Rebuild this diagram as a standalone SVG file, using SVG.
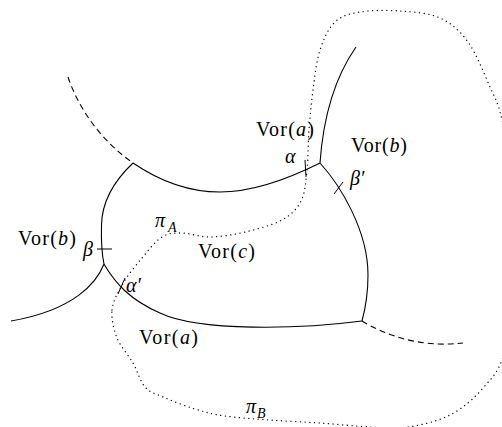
<svg xmlns="http://www.w3.org/2000/svg" width="502" height="427" viewBox="0 0 502 427">
<style>
.e{fill:none;stroke:#000;stroke-width:1.1}
.d{fill:none;stroke:#000;stroke-width:1.1;stroke-dasharray:6 4}
.p{fill:none;stroke:#000;stroke-width:1.3;stroke-linecap:round;stroke-dasharray:0.1 4.6}
.t{fill:none;stroke:#000;stroke-width:1}
text{font-family:"Liberation Serif","Times New Roman",serif;font-size:20px;fill:#000}
.i{font-style:italic}
.s{font-size:14px;font-style:italic}
</style>
<rect width="502" height="427" fill="#fff"/>
<g id="connectors">
<path class="e" d="M133,163 C155,178 185,192 220,192 C255,192 290,178 320,163"/>
<path class="e" d="M133,163 C115,180 102,200 101.5,225 C101,245 102,255 104,264"/>
<path class="e" d="M104,264 C97,282 75,310 11,321"/>
<path class="e" d="M104,264 C115,283 130,300 160,313 C200,332 300,329 362,321"/>
<path class="e" d="M320,163 C340,185 368,230 368,275 C368,295 365,310 362,321"/>
<path class="e" d="M320,163 C323,120 333,80 356,47"/>
<path class="d" d="M68,77 C78,107 100,140 133,163"/>
<path class="d" d="M362,321 C385,335 420,348 463,343"/>
</g>
<g id="curve-pi">
<path class="p" d="M112,310 C112.8,302 117,294 122,285 C127,276 135.3,266 142,258 C148.7,250 155.3,241.2 162,237 C168.7,232.8 174,233 182,233 C190,233 199.5,237.2 210,237 C220.5,236.8 233,234.8 245,232 C257,229.2 272.7,225.2 282,220 C291.3,214.8 296.8,209.3 301,201 C305.2,192.7 305.7,181.8 307,170 C308.3,158.2 308,143.3 309,130 C310,116.7 311.2,103.3 313,90 C314.8,76.7 316.3,61.3 320,50 C323.7,38.7 328.3,28.3 335,22 C341.7,15.7 349.2,13.8 360,12 C370.8,10.2 386.7,10 400,11 C413.3,12 428.7,12.8 440,18 C451.3,23.2 459.7,30.5 468,42 C476.3,53.5 484.3,74 490,87 C495.7,100 497.7,101.2 502,120 C506.3,138.8 513.7,170 516,200 C518.3,230 518.3,273.3 516,300 C513.7,326.7 507.5,345.3 502,360 C496.5,374.7 490,379.8 483,388 C476,396.2 468,403.5 460,409 C452,414.5 445,417.8 435,421 C425,424.2 410.8,427 400,428 C389.2,429 383.3,427.8 370,427 C356.7,426.2 336.7,424.2 320,423 C303.3,421.8 285.8,421.2 270,420 C254.2,418.8 237.5,417.8 225,416 C212.5,414.2 205.3,412.2 195,409 C184.7,405.8 171.3,400.7 163,397 C154.7,393.3 150,392.7 145,387 C140,381.3 137.7,371.2 133,363 C128.3,354.8 120.5,346.5 117,338 C113.5,329.5 111.2,318 112,310 Z"/>
</g>
<g id="ticks">
<line class="t" x1="305" y1="160" x2="306" y2="177"/>
<line class="t" x1="334" y1="194" x2="343" y2="182"/>
<line class="t" x1="97" y1="249" x2="112" y2="249"/>
<line class="t" x1="118" y1="294" x2="125" y2="278"/>
</g>
<g id="node-vor-a-top"><text x="256" y="136" textLength="58" lengthAdjust="spacing">Vor(<tspan class="i">a</tspan>)</text></g>
<g id="node-vor-b-right"><text x="351" y="152" textLength="56" lengthAdjust="spacing">Vor(<tspan class="i">b</tspan>)</text></g>
<g id="node-vor-b-left"><text x="18" y="245" textLength="58" lengthAdjust="spacing">Vor(<tspan class="i">b</tspan>)</text></g>
<g id="node-vor-c"><text x="198" y="258" textLength="57" lengthAdjust="spacing">Vor(<tspan class="i">c</tspan>)</text></g>
<g id="node-vor-a-bottom"><text x="139" y="344" textLength="59" lengthAdjust="spacing">Vor(<tspan class="i">a</tspan>)</text></g>
<g id="label-alpha"><text class="i" x="285" y="163">α</text></g>
<g id="label-beta-prime"><text class="i" x="350" y="185">β′</text></g>
<g id="label-beta"><text class="i" x="83" y="256">β</text></g>
<g id="label-alpha-prime"><text class="i" x="126" y="292">α′</text></g>
<g id="label-pi-a"><text class="i" x="155" y="227">π</text><text class="s" x="168" y="232">A</text></g>
<g id="label-pi-b"><text class="i" x="246" y="413">π</text><text class="s" x="257" y="418">B</text></g>
</svg>
